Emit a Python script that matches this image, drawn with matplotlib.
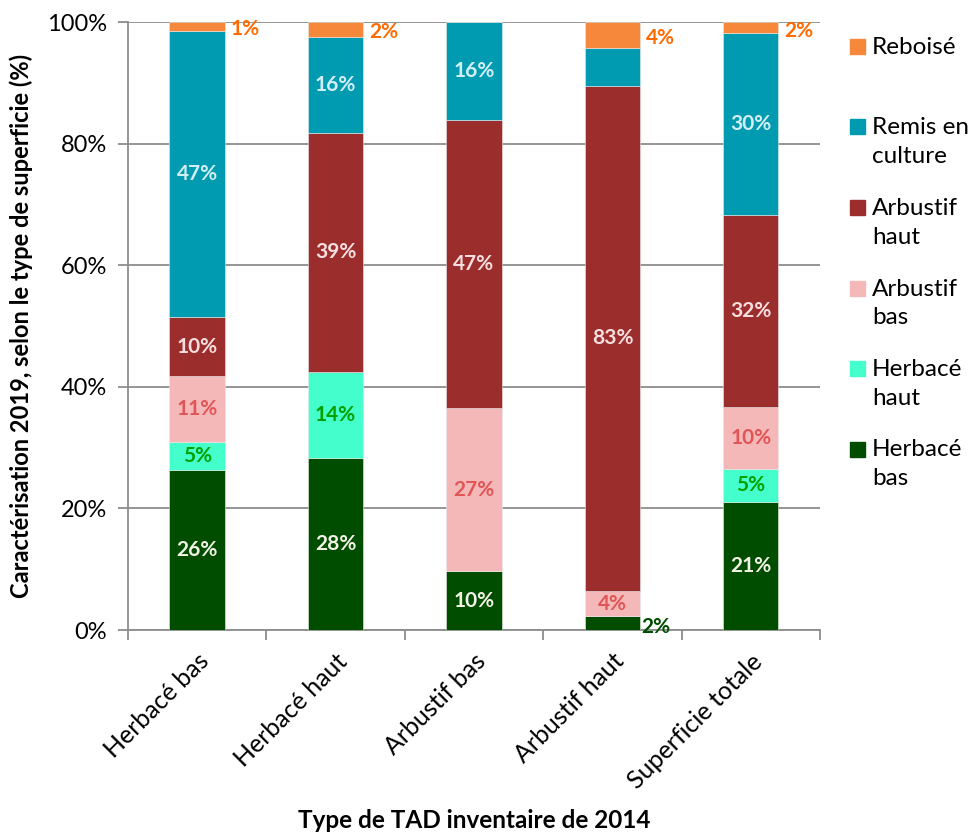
import matplotlib.pyplot as plt
from matplotlib.patches import Rectangle
import numpy as np

plt.rcParams['font.family'] = ['Lato', 'DejaVu Sans']

# Données
categories = ['Herbacé bas', 'Herbacé haut', 'Arbustif bas', 'Arbustif haut', 'Superficie totale']
series_names = ['Herbacé bas', 'Herbacé haut', 'Arbustif bas', 'Arbustif haut', 'Remis en culture', 'Reboisé']
legend_labels = ['Herbacé\nbas', 'Herbacé\nhaut', 'Arbustif\nbas', 'Arbustif\nhaut', 'Remis en\nculture', 'Reboisé']
herbace_bas = [26.3, 28.3, 9.7, 2.3, 21.1]
herbace_haut = [4.6, 14.1, 0.0, 0.0, 5.4]
arbustif_bas = [10.8, 0.0, 26.8, 4.1, 10.2]
arbustif_haut = [9.7, 39.4, 47.4, 83.1, 31.6]
remis_culture = [47.2, 15.8, 16.1, 6.2, 29.9]
reboise = [1.4, 2.4, 0.0, 4.3, 1.8]
values = [herbace_bas, herbace_haut, arbustif_bas, arbustif_haut, remis_culture, reboise]

colors = ['#004d00', '#44ffcc', '#f5b8b8', '#9b2d2d', '#009bb0', '#f5883a']
label_colors = ['#f2f2e6', '#00a000', '#e05555', '#f8dede', '#d4eef6', '#ff6a00']

fig = plt.figure(figsize=(9.71, 8.34), dpi=100)
ax = fig.add_axes([0.1318, 0.2446, 0.7127, 0.7290])

x = np.arange(len(categories))
width = 0.4
bottom = np.zeros(len(categories))
for i, (name, vals) in enumerate(zip(series_names, values)):
    vals = np.array(vals)
    ax.bar(x, vals, width, bottom=bottom, color=colors[i], edgecolor='#e8e8e8',
           linewidth=0.4, zorder=3)
    for j, v in enumerate(vals):
        if v <= 0:
            continue
        txt = f'{round(v):.0f}%'
        yc = bottom[j] + v / 2
        if name == 'Reboisé':
            ax.text(x[j] + width / 2 + 0.04, yc - 0.5, txt, ha='left', va='center',
                    fontsize=15, fontweight='bold', color=label_colors[i], zorder=4)
        elif name == 'Herbacé bas' and v < 3:
            ax.text(x[j] + width / 2 + 0.01, yc - 0.6, txt, ha='left', va='center',
                    fontsize=15, fontweight='bold', color=colors[i], zorder=4)
        elif name == 'Remis en culture' and v < 8:
            pass
        else:
            ax.text(x[j], yc, txt, ha='center', va='center',
                    fontsize=15, fontweight='bold', color=label_colors[i], zorder=4)
    bottom += vals

ax.set_xlim(-0.5, len(categories) - 0.5)
ax.set_ylim(0, 100)
ax.set_yticks(np.arange(0, 101, 20))
ax.set_yticklabels([f'{t}%' for t in range(0, 101, 20)], fontsize=17)
ax.yaxis.grid(True, color='#8c8c8c', linewidth=1.3, zorder=0)
ax.set_xticks(x)
ax.set_xticklabels(categories, rotation=45, ha='right', rotation_mode='anchor', fontsize=18)
ax.tick_params(axis='x', length=0, pad=14)
ax.set_xticks(np.arange(-0.5, len(categories)), minor=True)
ax.tick_params(axis='x', which='minor', length=7, color='#8c8c8c', width=1.3)
ax.tick_params(axis='y', length=7, color='#8c8c8c', width=1.3, pad=8)
for s in ['top', 'right']:
    ax.spines[s].set_visible(False)
for s in ['left', 'bottom']:
    ax.spines[s].set_color('#8c8c8c')
    ax.spines[s].set_linewidth(1.3)

ax.set_ylabel('Caractérisation 2019, selon le type de superficie (%)', fontsize=17,
              fontweight='bold', labelpad=10)
ax.set_xlabel('Type de TAD inventaire de 2014', fontsize=17.5, fontweight='bold', labelpad=12)

# Légende (ordre inverse, une entrée toutes les deux lignes)
for k, i in enumerate(range(len(series_names) - 1, -1, -1)):
    y_top = 1 - (47 + 80.5 * k) / 834
    fig.patches.append(Rectangle((850 / 971, y_top - 7 / 834), 15 / 971, 15 / 834,
                                 transform=fig.transFigure, color=colors[i]))
    fig.text(872 / 971, y_top + 10 / 834, legend_labels[i], fontsize=17.5, va='top', ha='left',
             linespacing=1.45)

fig.savefig('out.png', dpi=100)
